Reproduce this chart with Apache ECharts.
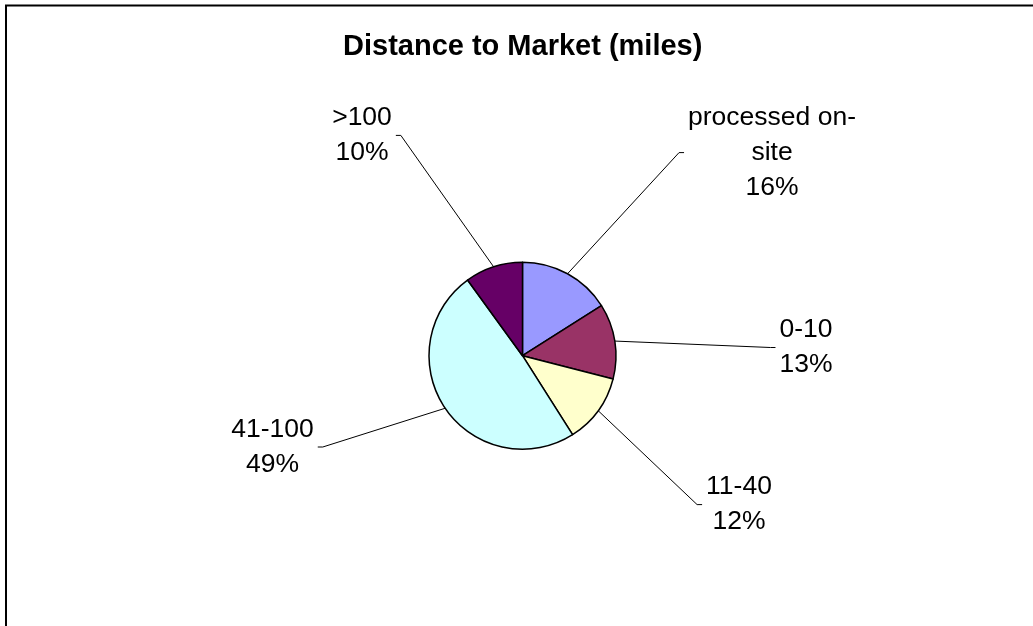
<!DOCTYPE html>
<html>
<head>
<meta charset="utf-8">
<script src="https://cdn.jsdelivr.net/npm/echarts/dist/echarts.min.js"></script>
<style>
html,body{margin:0;padding:0;background:#ffffff;}
#c{width:1033px;height:626px;}
</style>
</head>
<body>
<div id="c"></div>
<script>
// ---- data ----
const categories = ['processed on-site', '0-10', '11-40', '41-100', '>100'];
const values = [16, 13, 12, 49, 10];
const labelTexts = ['processed on-\nsite', '0-10', '11-40', '41-100', '>100'];
const colors = ['#9999FF', '#993366', '#FFFFCC', '#CCFFFF', '#660066'];
const chartTitle = 'Distance to Market (miles)';

// ---- layout (label anchor centres, side of leader line) ----
const labelPos = [[772, 152.6], [806, 347.5], [739, 504.6], [272.5, 447], [362, 135.4]];
const labelSide = [1, 1, 1, -1, -1];
const pieCenter = [522.5, 355.7];
const pieRadius = 93.5;

const total = values.reduce((a, b) => a + b, 0);
function edgePoint(i) {
  let cum = 0;
  for (let k = 0; k < i; k++) cum += values[k];
  const mid = (cum + values[i] / 2) / total * 2 * Math.PI;
  return [pieCenter[0] + pieRadius * Math.sin(mid), pieCenter[1] - pieRadius * Math.cos(mid)];
}

const chart = echarts.init(document.getElementById('c'), null, {renderer: 'canvas'});
chart.setOption({
  animation: false,
  backgroundColor: '#ffffff',
  title: {
    text: chartTitle,
    left: 343,
    top: 32.5,
    padding: 0,
    textStyle: {
      fontFamily: 'Liberation Sans, Arial, sans-serif',
      fontSize: 29,
      fontWeight: 'bold',
      color: '#000000',
      lineHeight: 29
    }
  },
  graphic: [{
    type: 'rect',
    silent: true,
    z: -1,
    shape: {x: 6, y: 5.5, width: 1100, height: 700},
    style: {fill: null, stroke: '#000000', lineWidth: 2}
  }],
  series: [{
    type: 'pie',
    center: pieCenter,
    radius: pieRadius,
    startAngle: 90,
    clockwise: true,
    avoidLabelOverlap: false,
    emphasis: {disabled: true},
    data: categories.map((c, i) => ({
      name: c,
      value: values[i],
      itemStyle: {color: colors[i]}
    })),
    itemStyle: {borderColor: '#000000', borderWidth: 1.5},
    label: {
      show: true,
      position: 'outside',
      formatter: p => labelTexts[p.dataIndex] + '\n' + p.percent.toFixed(0) + '%',
      fontFamily: 'Liberation Sans, Arial, sans-serif',
      fontSize: 26.5,
      lineHeight: 35,
      color: '#000000',
      align: 'center'
    },
    labelLine: {
      show: true,
      smooth: false,
      length: 20,
      length2: 10,
      lineStyle: {color: '#000000', width: 1}
    },
    labelLayout: function (p) {
      const i = p.dataIndex;
      const x = labelPos[i][0], y = labelPos[i][1];
      const w = p.labelRect.width;
      const side = labelSide[i];
      const edgeX = x - side * w / 2;
      const endX = edgeX - side * 4;
      const elbowX = endX - side * 5;
      const start = (p.labelLinePoints && p.labelLinePoints[0]) ? p.labelLinePoints[0] : edgePoint(i);
      return {
        x: x, y: y, align: 'center', verticalAlign: 'middle',
        labelLinePoints: [start, [elbowX, y], [endX, y]]
      };
    }
  }]
});
</script>
</body>
</html>
